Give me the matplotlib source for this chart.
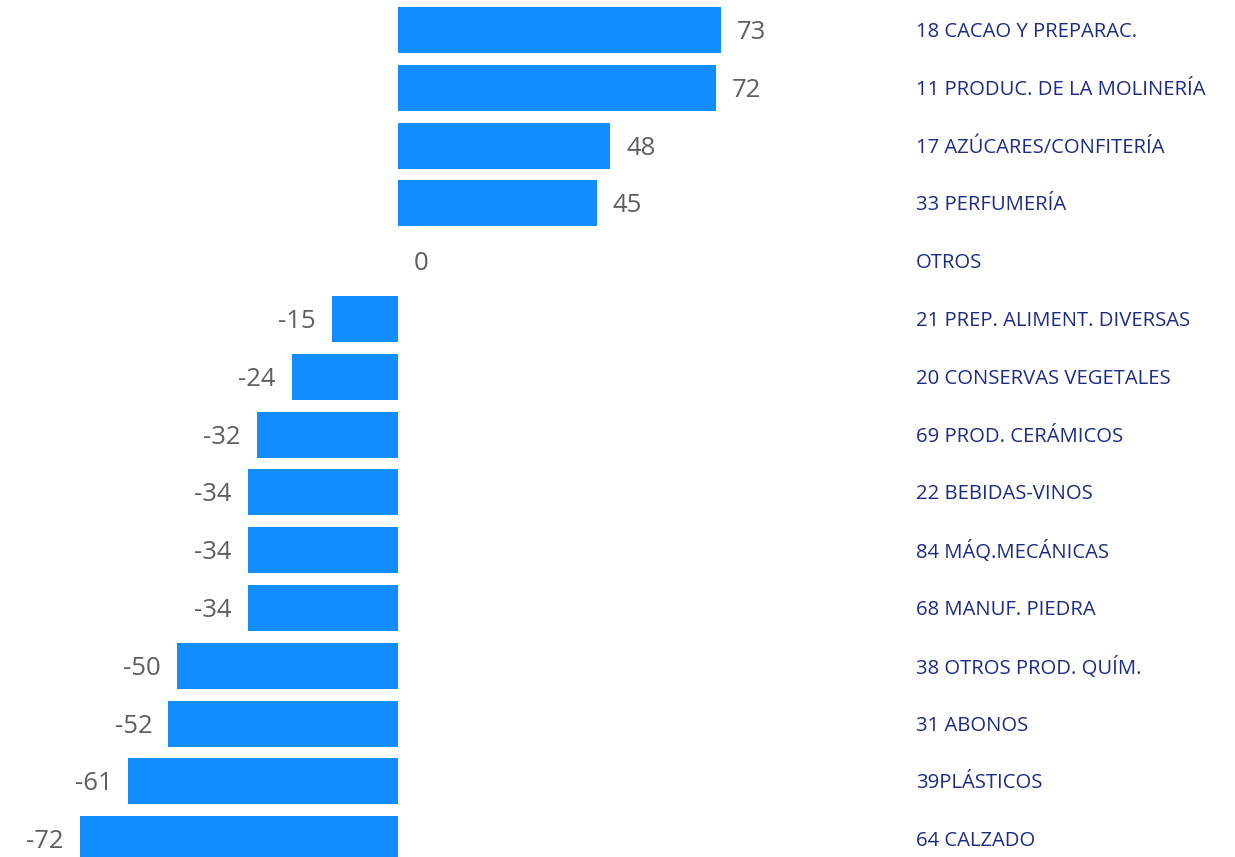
import matplotlib
matplotlib.use("Agg")
import matplotlib.pyplot as plt

categories = [
    "18 CACAO Y PREPARAC.",
    "11 PRODUC. DE LA MOLINERÍA",
    "17 AZÚCARES/CONFITERÍA",
    "33 PERFUMERÍA",
    "OTROS",
    "21 PREP. ALIMENT. DIVERSAS",
    "20 CONSERVAS VEGETALES",
    "69 PROD. CERÁMICOS",
    "22 BEBIDAS-VINOS",
    "84 MÁQ.MECÁNICAS",
    "68 MANUF. PIEDRA",
    "38 OTROS PROD. QUÍM.",
    "31 ABONOS",
    "39PLÁSTICOS",
    "64 CALZADO",
]
values = [73, 72, 48, 45, 0, -15, -24, -32, -34, -34, -34, -50, -52, -61, -72]

W, H = 1235, 857
DPI = 100
fig = plt.figure(figsize=(W / DPI, H / DPI), dpi=DPI)
fig.patch.set_facecolor("white")

ax_right_px = 900
ax = fig.add_axes([0, 0, ax_right_px / W, 1])
scale = 4.42  # px per unit
zero_px = 398
ax.set_xlim(-zero_px / scale, (ax_right_px - zero_px) / scale)
pitch = 57.8
first_c = 30
ax.set_ylim((H - first_c) / pitch, -first_c / pitch)
ax.axis("off")

ypos = list(range(len(categories)))
ax.barh(ypos, values, height=46 / pitch, color="#118DFF", linewidth=0)

font = "Open Sans"
for y, v, c in zip(ypos, values, categories):
    if v >= 0:
        ax.annotate(f"{v}", xy=(v, y), xytext=(11.5, -1.8), textcoords="offset points",
                    ha="left", va="center", fontsize=18.5, color="#605E5C", family=font)
    else:
        ax.annotate(f"{v}", xy=(v, y), xytext=(-11.5, -1.8), textcoords="offset points",
                    ha="right", va="center", fontsize=18.5, color="#605E5C", family=font)
    ax.annotate(c, xy=(0, y), xycoords=("axes fraction", "data"),
                xytext=(916 * 72 / DPI, -1.4), textcoords="offset points",
                ha="left", va="center", fontsize=14.6, color="#1C2B85", family=font,
                annotation_clip=False)

fig.savefig("out.png", dpi=DPI, facecolor="white")
